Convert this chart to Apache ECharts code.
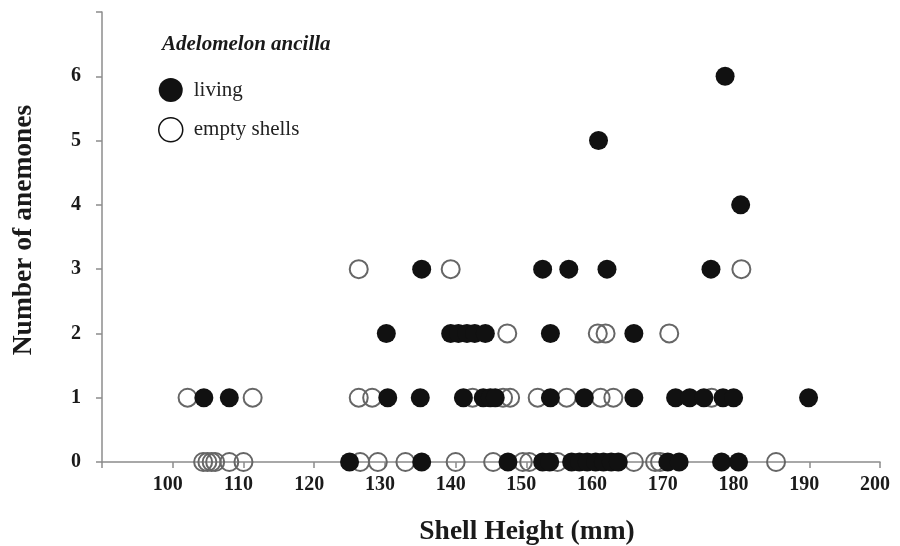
<!DOCTYPE html>
<html>
<head>
<meta charset="utf-8">
<script src="https://cdn.jsdelivr.net/npm/echarts@6/dist/echarts.min.js"></script>
<style>
  html, body { margin: 0; padding: 0; background: #fff; }
  #chart { width: 900px; height: 546px; }
</style>
</head>
<body>
<div id="chart"></div>
<script>
// Shell heights (mm) and anemone counts
const livingHeights = [
  125.0, 135.2, 147.4, 152.3, 153.3, 156.4, 157.5, 158.6, 159.8, 160.9, 162.0, 163.0, 170.0, 171.6, 177.6, 180.0,
  104.4, 108.0, 130.4, 135.0, 141.1, 143.9, 144.9, 145.6, 153.4, 158.2, 165.2, 171.1, 173.1, 175.1, 177.8, 179.3, 189.9,
  130.2, 139.3, 140.4, 141.6, 142.7, 144.2, 153.4, 165.2,
  135.2, 152.3, 156.0, 161.4, 176.1,
  180.3,
  160.2,
  178.1
];
const livingCounts = [
  0, 0, 0, 0, 0, 0, 0, 0, 0, 0, 0, 0, 0, 0, 0, 0,
  1, 1, 1, 1, 1, 1, 1, 1, 1, 1, 1, 1, 1, 1, 1, 1, 1,
  2, 2, 2, 2, 2, 2, 2, 2,
  3, 3, 3, 3, 3,
  4,
  5,
  6
];
const emptyHeights = [
  104.3, 104.9, 105.5, 106.0, 108.0, 110.0, 126.5, 129.0, 132.9, 140.0, 145.3, 149.5, 150.4, 154.4, 165.2, 168.2, 168.9, 185.3,
  102.1, 111.3, 126.3, 128.2, 142.4, 146.7, 147.7, 151.6, 155.7, 160.5, 162.3, 176.2,
  147.3, 160.1, 161.2, 170.2,
  126.3, 139.3, 180.4
];
const emptyCounts = [
  0, 0, 0, 0, 0, 0, 0, 0, 0, 0, 0, 0, 0, 0, 0, 0, 0, 0,
  1, 1, 1, 1, 1, 1, 1, 1, 1, 1, 1, 1,
  2, 2, 2, 2,
  3, 3, 3
];
const xTickLabels = ['100', '110', '120', '130', '140', '150', '160', '170', '180', '190', '200'];
const yTickLabels = ['0', '1', '2', '3', '4', '5', '6'];

const livingData = livingHeights.map((h, i) => [h, livingCounts[i]]);
const emptyData = emptyHeights.map((h, i) => [h, emptyCounts[i]]);

const serif = '"Liberation Serif", "DejaVu Serif", serif';
const axisGray = '#8c8c8c';

const chart = echarts.init(document.getElementById('chart'), null, { renderer: 'canvas' });
chart.setOption({
  animation: false,
  backgroundColor: '#ffffff',
  title: {
    text: 'Adelomelon ancilla',
    left: 157,
    top: 29,
    textStyle: { fontFamily: serif, fontWeight: 'bold', fontStyle: 'italic', fontSize: 21, color: '#1a1a1a' }
  },
  legend: {
    orient: 'vertical',
    left: 153,
    top: 73,
    itemWidth: 24,
    itemHeight: 24,
    itemGap: 15,
    selectedMode: false,
    textStyle: { fontFamily: serif, fontSize: 21, color: '#222', padding: [0, 0, 0, 6] },
    data: [
      { name: 'living', icon: 'circle', itemStyle: { color: '#111', borderWidth: 0 } },
      { name: 'empty shells', icon: 'circle', itemStyle: { color: '#fff', borderColor: '#111', borderWidth: 1.5 } }
    ]
  },
  grid: { left: 102, right: 20, top: 12, bottom: 84, containLabel: false, outerBoundsMode: 'none' },
  xAxis: {
    type: 'value',
    min: 90,
    max: 200,
    interval: 10,
    name: 'Shell Height (mm)',
    nameLocation: 'middle',
    nameGap: 56,
    nameTextStyle: { fontFamily: serif, fontWeight: 'bold', fontSize: 27.5, color: '#1a1a1a', padding: [0, 0, 0, 72] },
    axisLine: { show: true, lineStyle: { color: axisGray, width: 1.5 } },
    axisTick: { show: true, length: 6, lineStyle: { color: axisGray, width: 1.5 } },
    splitLine: { show: false },
    axisLabel: {
      margin: 13,
      fontFamily: serif, fontWeight: 'bold', fontSize: 20, color: '#1a1a1a',
      padding: [0, 10, 0, 0],
      formatter: function (v) {
        const s = String(Math.round(v));
        return xTickLabels.indexOf(s) >= 0 ? s : '';
      }
    }
  },
  yAxis: {
    type: 'value',
    min: 0,
    max: 7,
    interval: 1,
    name: 'Number of anemones',
    nameLocation: 'middle',
    nameGap: 64,
    nameRotate: 90,
    nameTextStyle: { fontFamily: serif, fontWeight: 'bold', fontSize: 27.5, color: '#1a1a1a', padding: [0, 0, 0, 14] },
    axisLine: { show: true, lineStyle: { color: axisGray, width: 1.5 } },
    axisTick: { show: true, length: 6, lineStyle: { color: axisGray, width: 1.5 } },
    splitLine: { show: false },
    axisLabel: {
      margin: 21,
      fontFamily: serif, fontWeight: 'bold', fontSize: 20, color: '#1a1a1a',
      formatter: function (v) {
        const s = String(Math.round(v));
        return yTickLabels.indexOf(s) >= 0 ? s : '';
      }
    }
  },
  series: [
    {
      name: 'empty shells',
      type: 'scatter',
      symbol: 'circle',
      symbolSize: 18,
      data: emptyData,
      itemStyle: { color: 'rgba(255,255,255,0)', borderColor: '#666', borderWidth: 2, opacity: 1 },
      z: 2
    },
    {
      name: 'living',
      type: 'scatter',
      symbol: 'circle',
      symbolSize: 19,
      data: livingData,
      itemStyle: { color: '#111', opacity: 1 },
      z: 3
    }
  ]
});
</script>
</body>
</html>
